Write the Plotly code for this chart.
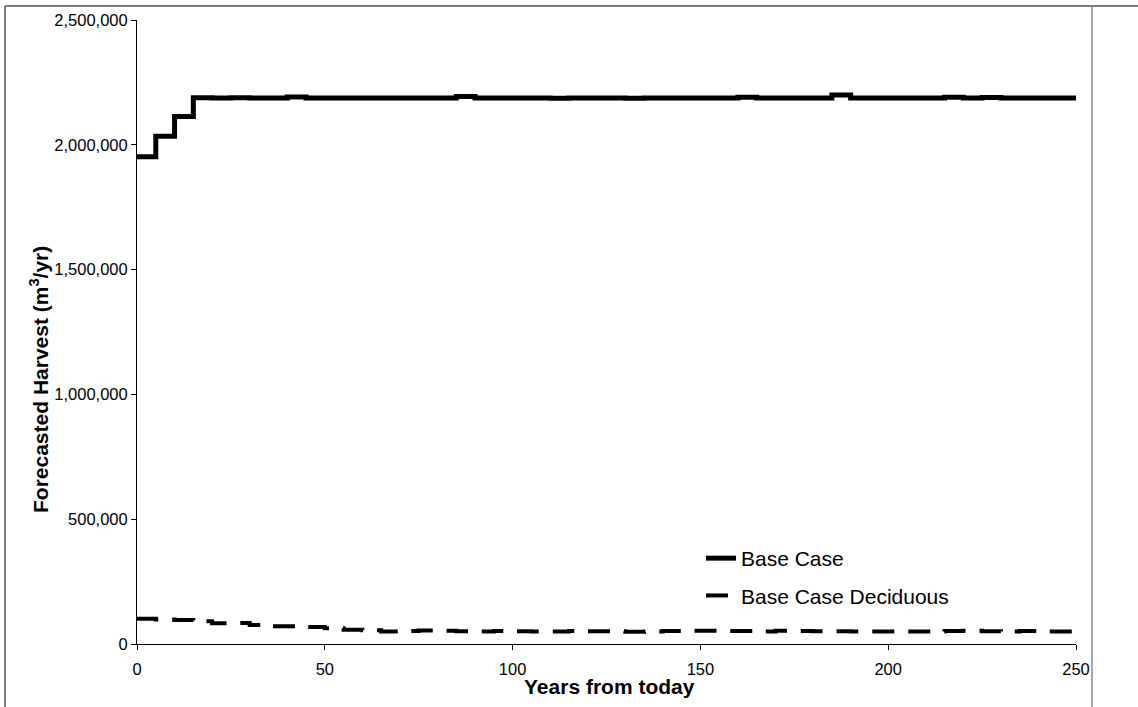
import plotly.graph_objects as go

years = list(range(0, 255, 5))

base_case = [
    1952000, 2034000, 2113000, 2189000, 2188000, 2189000, 2188000, 2188000,
    2192000, 2188000, 2187000, 2188000, 2188000, 2187000, 2187000, 2188000,
    2188000, 2194000, 2188000, 2188000, 2187000, 2187000, 2186000, 2187000,
    2187000, 2187000, 2186000, 2187000, 2187000, 2188000, 2187000, 2187000,
    2191000, 2188000, 2187000, 2187000, 2188000, 2200000, 2187000, 2187000,
    2187000, 2187000, 2187000, 2191000, 2188000, 2190000, 2188000, 2187000,
    2187000, 2187000, 2187000,
]

base_case_deciduous = [
    101000, 98000, 96000, 91000, 83000, 84000, 76000, 71000, 71000, 68000,
    63000, 57000, 55000, 50000, 52000, 54000, 53000, 51000, 50000, 52000,
    51000, 50000, 50000, 52000, 51000, 51000, 49000, 50000, 52000, 53000,
    53000, 52000, 52000, 50000, 53000, 52000, 51000, 51000, 50000, 50000,
    50000, 50000, 50000, 52000, 53000, 51000, 50000, 52000, 50000, 50000,
    50000,
]

x_ticks = [0, 50, 100, 150, 200, 250]
y_ticks = [0, 500000, 1000000, 1500000, 2000000, 2500000]

FONT = "Arial, Liberation Sans, sans-serif"

fig = go.Figure()
fig.add_trace(go.Scatter(
    x=years, y=base_case, mode="lines", name="Base Case",
    line=dict(color="black", width=5, shape="hv"),
    legendgroup="a",
))
fig.add_trace(go.Scatter(
    x=years, y=base_case_deciduous, mode="lines", name="Base Case Deciduous",
    line=dict(color="black", width=4, shape="hv", dash="22px,14px"),
    legendgroup="b",
))

W, H = 1138, 707
L, R, T, B = 137, 62, 20, 63
pw, ph = W - L - R, H - T - B

def px(p):
    return (p - L) / pw

def py(p):
    return (H - B - p) / ph

border = dict(color="#555555", width=1.5)
shapes = [
    dict(type="line", xref="paper", yref="paper", x0=px(5), x1=px(5), y0=py(6), y1=py(720), line=border),
    dict(type="line", xref="paper", yref="paper", x0=px(5), x1=px(1150), y0=py(6), y1=py(6), line=border),
    dict(type="line", xref="paper", yref="paper", x0=px(1092), x1=px(1092), y0=py(6), y1=py(720), line=dict(color="#888888", width=1.5)),
]

annotations = [
    dict(text="<b>Forecasted Harvest (m<sup>3</sup>/yr)</b>", xref="paper", yref="paper",
         x=px(39), y=py(380), xanchor="center", yanchor="middle", textangle=-90,
         showarrow=False, font=dict(family=FONT, size=21, color="black")),
    dict(text="<b>Years from today</b>", xref="paper", yref="paper",
         x=px(609), y=py(686), xanchor="center", yanchor="middle",
         showarrow=False, font=dict(family=FONT, size=21, color="black")),
]

fig.update_layout(
    width=W, height=H,
    margin=dict(l=L, r=R, t=T, b=B),
    paper_bgcolor="white", plot_bgcolor="white",
    font=dict(family=FONT, color="black", size=16),
    showlegend=True,
    legend=dict(
        x=px(701), y=py(538), xanchor="left", yanchor="top",
        font=dict(family=FONT, size=21, color="black"),
        bgcolor="rgba(0,0,0,0)", borderwidth=0,
        traceorder="grouped", tracegroupgap=7,
    ),
    shapes=shapes,
    annotations=annotations,
    xaxis=dict(
        range=[0, 250], tickvals=x_ticks, ticks="outside", ticklen=5,
        tickcolor="black", showline=True, linecolor="black", linewidth=1,
        showgrid=False, zeroline=False, ticklabelstandoff=5,
        tickfont=dict(family=FONT, size=16.5, color="black"),
    ),
    yaxis=dict(
        range=[0, 2500000], tickvals=y_ticks, tickformat=",d", ticks="outside", ticklen=5,
        tickcolor="black", showline=True, linecolor="black", linewidth=1,
        showgrid=False, zeroline=False,
        tickfont=dict(family=FONT, size=16.5, color="black"),
    ),
)

fig.write_html("out.html", config={"displayModeBar": False},
               post_script="document.body.style.margin='0';document.body.style.overflow='hidden';")
